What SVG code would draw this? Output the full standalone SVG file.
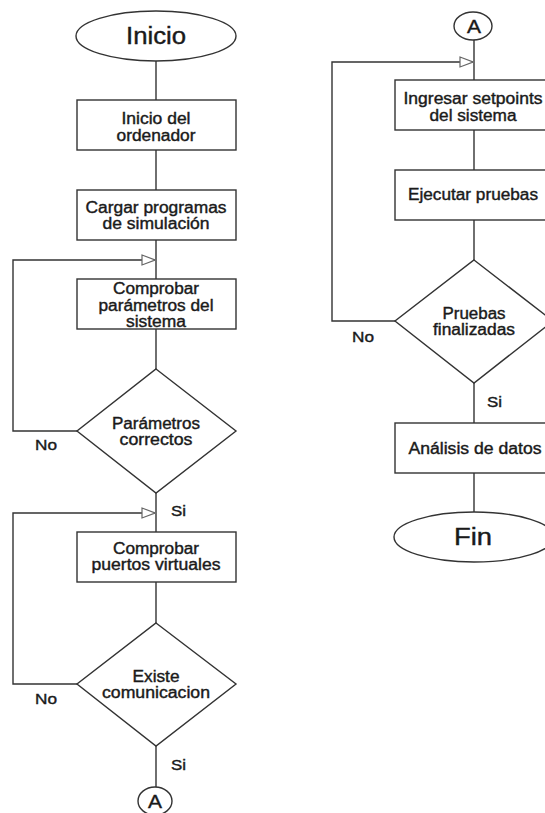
<svg xmlns="http://www.w3.org/2000/svg" width="545" height="813" viewBox="0 0 545 813">
  <defs>
    <style>
      .shape { fill: #ffffff; stroke: #333333; stroke-width: 1.4; }
      .line { fill: none; stroke: #333333; stroke-width: 1.4; }
      text { font-family: "Liberation Sans", Arial, sans-serif; fill: #1a1a1a; stroke: #1a1a1a; stroke-width: 0.4px; }
      .txt { font-size: 16px; text-anchor: middle; }
      .big { font-size: 23px; text-anchor: middle; }
      .con { font-size: 19px; text-anchor: middle; }
      .lbl { font-size: 15px; }
    </style>
    <marker id="hollow" viewBox="0 0 14 12" refX="14" refY="6" markerWidth="14" markerHeight="12" markerUnits="userSpaceOnUse" orient="auto">
      <path d="M1,1 L14,6 L1,11 Z" fill="#ffffff" stroke="#666666" stroke-width="1.2"/>
    </marker>
  </defs>
  <rect width="545" height="813" fill="#ffffff"/>

  <!-- connectors -->
  <g id="connectors">
    <!-- left column trunk -->
    <line class="line" x1="156" y1="61" x2="156" y2="100"/>
    <line class="line" x1="156" y1="150" x2="156" y2="190"/>
    <line class="line" x1="156" y1="240" x2="156" y2="279"/>
    <line class="line" x1="156" y1="329" x2="156" y2="369"/>
    <line class="line" x1="156" y1="493" x2="156" y2="532"/>
    <line class="line" x1="156" y1="582" x2="156" y2="623"/>
    <line class="line" x1="156" y1="746" x2="156" y2="787"/>
    <!-- loop: Parámetros correctos -> No -->
    <polyline class="line" points="77,431 13,431 13,260 155,260" marker-end="url(#hollow)"/>
    <!-- loop: Existe comunicacion -> No -->
    <polyline class="line" points="77,684 13,684 13,513 155,513" marker-end="url(#hollow)"/>
    <!-- right column trunk -->
    <line class="line" x1="474" y1="40" x2="474" y2="80"/>
    <line class="line" x1="474" y1="130" x2="474" y2="170"/>
    <line class="line" x1="474" y1="220" x2="474" y2="260"/>
    <line class="line" x1="474" y1="383" x2="474" y2="423"/>
    <line class="line" x1="474" y1="473" x2="474" y2="512"/>
    <!-- loop: Pruebas finalizadas -> No -->
    <polyline class="line" points="395,321 332,321 332,62 473,62" marker-end="url(#hollow)"/>
    <!-- branch labels -->
    <text class="lbl" x="35" y="450" textLength="22" lengthAdjust="spacingAndGlyphs">No</text>
    <text class="lbl" x="171" y="516" textLength="15" lengthAdjust="spacingAndGlyphs">Si</text>
    <text class="lbl" x="35" y="704" textLength="22" lengthAdjust="spacingAndGlyphs">No</text>
    <text class="lbl" x="171" y="770" textLength="15" lengthAdjust="spacingAndGlyphs">Si</text>
    <text class="lbl" x="352" y="342" textLength="22" lengthAdjust="spacingAndGlyphs">No</text>
    <text class="lbl" x="487" y="407" textLength="15" lengthAdjust="spacingAndGlyphs">Si</text>
  </g>

  <g id="inicio">
    <ellipse class="shape" cx="156" cy="36" rx="80" ry="25"/>
    <text class="big" x="156" y="44" textLength="60" lengthAdjust="spacingAndGlyphs">Inicio</text>
  </g>

  <g id="inicio-ordenador">
    <rect class="shape" x="77" y="100" width="159" height="50"/>
    <text class="txt" x="156" y="124" textLength="69" lengthAdjust="spacingAndGlyphs">Inicio del</text>
    <text class="txt" x="156" y="141" textLength="79" lengthAdjust="spacingAndGlyphs">ordenador</text>
  </g>

  <g id="cargar-programas">
    <rect class="shape" x="77" y="190" width="159" height="50"/>
    <text class="txt" x="156" y="213" textLength="141" lengthAdjust="spacingAndGlyphs">Cargar programas</text>
    <text class="txt" x="156" y="229" textLength="107" lengthAdjust="spacingAndGlyphs">de simulación</text>
  </g>

  <g id="comprobar-parametros">
    <rect class="shape" x="77" y="279" width="159" height="50"/>
    <text class="txt" x="156" y="294" textLength="86" lengthAdjust="spacingAndGlyphs">Comprobar</text>
    <text class="txt" x="156" y="311" textLength="115" lengthAdjust="spacingAndGlyphs">parámetros del</text>
    <text class="txt" x="156" y="327" textLength="60" lengthAdjust="spacingAndGlyphs">sistema</text>
  </g>

  <g id="parametros-correctos">
    <polygon class="shape" points="156,369 236,431 156,493 77,431"/>
    <text class="txt" x="156" y="429" textLength="88" lengthAdjust="spacingAndGlyphs">Parámetros</text>
    <text class="txt" x="156" y="445" textLength="73" lengthAdjust="spacingAndGlyphs">correctos</text>
  </g>

  <g id="comprobar-puertos">
    <rect class="shape" x="77" y="532" width="159" height="50"/>
    <text class="txt" x="156" y="554" textLength="86" lengthAdjust="spacingAndGlyphs">Comprobar</text>
    <text class="txt" x="156" y="570" textLength="129" lengthAdjust="spacingAndGlyphs">puertos virtuales</text>
  </g>

  <g id="existe-comunicacion">
    <polygon class="shape" points="156,623 236,684 156,746 77,684"/>
    <text class="txt" x="156" y="682" textLength="47" lengthAdjust="spacingAndGlyphs">Existe</text>
    <text class="txt" x="156" y="698" textLength="108" lengthAdjust="spacingAndGlyphs">comunicacion</text>
  </g>

  <g id="conector-a-salida">
    <ellipse class="shape" cx="155" cy="801" rx="17" ry="14"/>
    <text class="con" x="155" y="808" textLength="14" lengthAdjust="spacingAndGlyphs">A</text>
  </g>

  <g id="conector-a-entrada">
    <ellipse class="shape" cx="473" cy="26" rx="19" ry="14"/>
    <text class="con" x="474" y="33" textLength="14" lengthAdjust="spacingAndGlyphs">A</text>
  </g>

  <g id="ingresar-setpoints">
    <rect class="shape" x="395" y="80" width="159" height="50"/>
    <text class="txt" x="473" y="104" textLength="139" lengthAdjust="spacingAndGlyphs">Ingresar setpoints</text>
    <text class="txt" x="473" y="121" textLength="87" lengthAdjust="spacingAndGlyphs">del sistema</text>
  </g>

  <g id="ejecutar-pruebas">
    <rect class="shape" x="395" y="170" width="159" height="50"/>
    <text class="txt" x="473" y="200" textLength="130" lengthAdjust="spacingAndGlyphs">Ejecutar pruebas</text>
  </g>

  <g id="pruebas-finalizadas">
    <polygon class="shape" points="474,260 553,321 474,383 395,321"/>
    <text class="txt" x="474" y="319" textLength="63" lengthAdjust="spacingAndGlyphs">Pruebas</text>
    <text class="txt" x="474" y="335" textLength="82" lengthAdjust="spacingAndGlyphs">finalizadas</text>
  </g>

  <g id="analisis-datos">
    <rect class="shape" x="395" y="423" width="159" height="50"/>
    <text class="txt" x="475" y="454" textLength="133" lengthAdjust="spacingAndGlyphs">Análisis de datos</text>
  </g>

  <g id="fin">
    <ellipse class="shape" cx="474" cy="537" rx="80" ry="25"/>
    <text class="big" x="473" y="545" textLength="38" lengthAdjust="spacingAndGlyphs">Fin</text>
  </g>
</svg>
